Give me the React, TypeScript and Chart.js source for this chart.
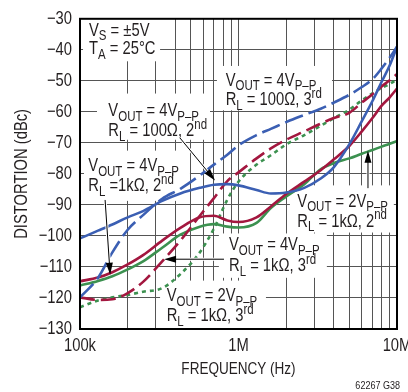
import React, { useEffect, useRef } from 'react';
import { Chart, registerables } from 'chart.js';

Chart.register(...registerables);

const FAMILY = '"Liberation Sans", Arial, sans-serif';
const NARROW = 0.82; // horizontal compression to emulate a condensed face
const TEXT = '#231f20';
const GRID = '#555555';
const BLUE = '#3b5fb3';
const RED = '#a3173f';
const GREEN = '#3c9150';

// Frequency grid (Hz)
const FREQ_HZ = [1e5, 1.3e5, 1.6e5, 2e5, 2.5e5, 3.3e5, 4.3e5, 5.7e5, 7e5, 8.5e5, 1e6, 1.3e6, 1.6e6, 2e6, 2.6e6, 3.3e6, 4e6, 5e6, 6e6, 7e6, 8e6, 9e6, 1e7];

// Distortion (dBc)
const HD2_4VPP_100R = [-100.8, -98.3, -96.3, -94, -92, -88.7, -86.3, -84.5, -83.5, -83.3, -83.7, -85.2, -86.3, -86, -84.5, -81.5, -77.8, -70.5, -63, -56.5, -50.3, -45, -39];
const HD3_4VPP_100R = [-119.8, -113.5, -105.3, -98, -93.3, -88, -84.8, -80.5, -77, -73.8, -70.8, -67.5, -65.5, -63.3, -61, -59, -57, -54.5, -52, -49.5, -46, -42.5, -39];
const HD2_4VPP_1K = [-114.6, -113.4, -111.7, -109.2, -106.2, -101.5, -97.4, -94, -93.5, -95, -95.5, -94, -90.5, -86.5, -82.5, -78.8, -75.3, -71, -66.3, -62, -58, -55.3, -52.5];
const HD3_4VPP_1K = [-119.8, -120.6, -120.4, -118.4, -114.8, -108.2, -101.5, -93.5, -87.8, -82.3, -79.5, -75, -71.8, -69, -66.3, -63.8, -62, -60.3, -57, -54.3, -51.8, -49.8, -47.8];
const HD2_2VPP_1K = [-116, -114.5, -113, -110.8, -108.2, -103.8, -99.6, -97, -96.2, -97, -97.3, -95.8, -91, -87.3, -83.3, -78.5, -76.5, -75, -73.5, -72.3, -71.2, -70.3, -69.4];
const HD3_2VPP_1K = [-123, -120.8, -119.8, -119, -118, -116.8, -112.3, -105.3, -97.6, -88.3, -82.5, -77, -74, -70.5, -67.5, -64.5, -62, -59.3, -56.3, -54, -52.3, -51, -49.5];

// Axis ticks
const X_TICKS = [1e5, 2e5, 3e5, 4e5, 5e5, 6e5, 7e5, 8e5, 9e5, 1e6, 2e6, 3e6, 4e6, 5e6, 6e6, 7e6, 8e6, 9e6, 1e7];
const X_TICK_LABELS: Record<string, string> = { '100000': '100k', '1000000': '1M', '10000000': '10M' };
const Y_MIN = -130;
const Y_MAX = -30;
const Y_STEP = 10;

type Seg = [string, 'n' | 'sub' | 'sup'];
type Line = { db: number; segs: Seg[] };
type Note = { box: [number, number, number, number]; f: number; lines: Line[]; arrow?: [number, number, number, number] };

const VOUT4: Seg[] = [['V', 'n'], ['OUT', 'sub'], [' = 4V', 'n'], ['P\u2013P', 'sub']];
const VOUT2: Seg[] = [['V', 'n'], ['OUT', 'sub'], [' = 2V', 'n'], ['P\u2013P', 'sub']];

const NOTES: Note[] = [
  { box: [1.045e5, 3.2e5, -30, -43.7], f: 1.14e5, lines: [
    { db: -35.4, segs: [['V', 'n'], ['S', 'sub'], [' = \u00b15V', 'n']] },
    { db: -41.4, segs: [['T', 'n'], ['A', 'sub'], [' = 25\u00b0C', 'n']] },
  ] },
  { box: [1.28e5, 6.61e5, -54.1, -69.0], f: 1.51e5, lines: [
    { db: -61.4, segs: VOUT4 },
    { db: -67.8, segs: [['R', 'n'], ['L', 'sub'], [' = 100\u03a9, 2', 'n'], ['nd', 'sup']] },
  ], arrow: [4.27e5, -68.4, 7.11e5, -82.1] },
  { box: [7.31e5, 3.89e6, -45.2, -59.5], f: 8.3e5, lines: [
    { db: -51.6, segs: VOUT4 },
    { db: -57.9, segs: [['R', 'n'], ['L', 'sub'], [' = 100\u03a9, 3', 'n'], ['rd', 'sup']] },
  ] },
  { box: [1.06e5, 4.94e5, -72.5, -88.7], f: 1.128e5, lines: [
    { db: -79.2, segs: VOUT4 },
    { db: -85.6, segs: [['R', 'n'], ['L', 'sub'], [' =1k\u03a9, 2', 'n'], ['nd', 'sup']] },
  ], arrow: [1.44e5, -88.4, 1.55e5, -112.5] },
  { box: [2.11e6, 9.55e6, -83.7, -98.9], f: 2.35e6, lines: [
    { db: -90.6, segs: VOUT2 },
    { db: -97.0, segs: [['R', 'n'], ['L', 'sub'], [' = 1k\u03a9, 2', 'n'], ['nd', 'sup']] },
  ], arrow: [6.56e6, -84.6, 6.56e6, -72.5] },
  { box: [7.52e5, 3.61e6, -99.2, -113.5], f: 8.71e5, lines: [
    { db: -104.6, segs: VOUT4 },
    { db: -111.3, segs: [['R', 'n'], ['L', 'sub'], [' = 1k\u03a9, 3', 'n'], ['rd', 'sup']] },
  ], arrow: [8.1e5, -107.5, 3.39e5, -107.5] },
  { box: [3.2e5, 1.49e6, -114.4, -129.7], f: 3.52e5, lines: [
    { db: -121.1, segs: VOUT2 },
    { db: -127.5, segs: [['R', 'n'], ['L', 'sub'], [' = 1k\u03a9, 3', 'n'], ['rd', 'sup']] },
  ] },
];

const SERIES = [
  { label: '4VP-P, RL=100Ω, 2nd', data: HD2_4VPP_100R, color: BLUE, dash: [] as number[] },
  { label: '4VP-P, RL=100Ω, 3rd', data: HD3_4VPP_100R, color: BLUE, dash: [19, 6] },
  { label: '4VP-P, RL=1kΩ, 2nd', data: HD2_4VPP_1K, color: RED, dash: [] as number[] },
  { label: '4VP-P, RL=1kΩ, 3rd', data: HD3_4VPP_1K, color: RED, dash: [15, 6] },
  { label: '2VP-P, RL=1kΩ, 2nd', data: HD2_2VPP_1K, color: GREEN, dash: [] as number[] },
  { label: '2VP-P, RL=1kΩ, 3rd', data: HD3_2VPP_1K, color: GREEN, dash: [4, 4] },
];

const FONT_SIZE = 18;

function drawRich(ctx: CanvasRenderingContext2D, segs: Seg[], x: number, y: number, size: number) {
  let cx = x;
  for (const [t, k] of segs) {
    const fs = k === 'n' ? size : Math.round(size * 0.76);
    ctx.font = `${fs}px ${FAMILY}`;
    const dy = k === 'sub' ? size * 0.26 : k === 'sup' ? -size * 0.4 : 0;
    ctx.fillText(t, cx, y + dy);
    cx += ctx.measureText(t).width * NARROW;
  }
}

function drawArrow(ctx: CanvasRenderingContext2D, x0: number, y0: number, x1: number, y1: number) {
  const ang = Math.atan2(y1 - y0, x1 - x0);
  const hl = 12;
  const hw = 3.5;
  const bx = x1 - hl * Math.cos(ang);
  const by = y1 - hl * Math.sin(ang);
  ctx.lineCap = 'butt';
  ctx.strokeStyle = '#fff';
  ctx.lineWidth = 3;
  ctx.beginPath();
  ctx.moveTo(x0, y0);
  ctx.lineTo(bx, by);
  ctx.stroke();
  ctx.strokeStyle = '#000';
  ctx.lineWidth = 1;
  ctx.beginPath();
  ctx.moveTo(x0, y0);
  ctx.lineTo(bx + Math.cos(ang) * 2, by + Math.sin(ang) * 2);
  ctx.stroke();
  ctx.fillStyle = '#000';
  ctx.beginPath();
  ctx.moveTo(x1, y1);
  ctx.lineTo(bx + hw * Math.sin(ang), by - hw * Math.cos(ang));
  ctx.lineTo(bx - hw * Math.sin(ang), by + hw * Math.cos(ang));
  ctx.closePath();
  ctx.fill();
}

const notesPlugin = {
  id: 'notes',
  beforeDatasetsDraw(chart: any) {
    const { ctx, scales } = chart;
    const xs = scales.x;
    const ys = scales.y;
    ctx.save();
    ctx.fillStyle = '#fff';
    for (const n of NOTES) {
      const [f0, f1, d0, d1] = n.box;
      const x0 = xs.getPixelForValue(f0);
      const x1 = xs.getPixelForValue(f1);
      const y0 = ys.getPixelForValue(d0);
      const y1 = ys.getPixelForValue(d1);
      ctx.fillRect(Math.min(x0, x1), Math.min(y0, y1), Math.abs(x1 - x0), Math.abs(y1 - y0));
    }
    ctx.fillStyle = TEXT;
    ctx.textAlign = 'left';
    ctx.textBaseline = 'alphabetic';
    for (const n of NOTES) {
      const px = xs.getPixelForValue(n.f);
      for (const ln of n.lines) {
        drawRich(ctx, ln.segs, px, ys.getPixelForValue(ln.db), FONT_SIZE);
      }
    }
    ctx.restore();
  },
  afterDatasetsDraw(chart: any) {
    const { ctx, scales, chartArea } = chart;
    const xs = scales.x;
    const ys = scales.y;
    ctx.save();
    for (const n of NOTES) {
      if (!n.arrow) continue;
      const [fa, da, fb, db] = n.arrow;
      drawArrow(ctx, xs.getPixelForValue(fa), ys.getPixelForValue(da), xs.getPixelForValue(fb), ys.getPixelForValue(db));
    }
    ctx.strokeStyle = '#000';
    ctx.lineWidth = 2;
    ctx.strokeRect(chartArea.left, chartArea.top, chartArea.right - chartArea.left, chartArea.bottom - chartArea.top);
    ctx.fillStyle = TEXT;
    ctx.font = `11px ${FAMILY}`;
    ctx.textAlign = 'right';
    ctx.textBaseline = 'alphabetic';
    ctx.fillText('62267 G38', chartArea.right + 3, chart.height - 3);
    ctx.restore();
  },
};

export default function App() {
  const ref = useRef<HTMLCanvasElement>(null);
  useEffect(() => {
    const canvas = ref.current;
    if (!canvas) return;
    const ctx = canvas.getContext('2d') as CanvasRenderingContext2D;
    const origFill = ctx.fillText;
    // draw every text run horizontally condensed around its anchor point
    (ctx as any).fillText = function (text: string, x: number, y: number) {
      ctx.save();
      ctx.translate(x, y);
      ctx.scale(NARROW, 1);
      origFill.call(ctx, text, 0, 0);
      ctx.restore();
    };
    const font = { family: FAMILY, size: FONT_SIZE };
    const chart = new Chart(canvas, {
      type: 'line',
      data: {
        datasets: SERIES.map((s) => ({
          label: s.label,
          data: FREQ_HZ.map((f, i) => ({ x: f, y: s.data[i] })),
          borderColor: s.color,
          backgroundColor: s.color,
          borderWidth: 2.6,
          borderDash: s.dash,
          borderCapStyle: 'butt',
          fill: false,
          pointRadius: 0,
          cubicInterpolationMode: 'monotone',
        })),
      },
      options: {
        animation: false,
        responsive: false,
        maintainAspectRatio: false,
        layout: { padding: { top: 14, right: 33, left: 0, bottom: 0 } },
        plugins: { legend: { display: false }, tooltip: { enabled: false } },
        scales: {
          x: {
            type: 'logarithmic',
            min: X_TICKS[0],
            max: X_TICKS[X_TICKS.length - 1],
            afterBuildTicks: (s: any) => {
              s.ticks = X_TICKS.map((v) => ({ value: v }));
            },
            afterFit: (s: any) => {
              s.height = 63;
            },
            grid: { color: GRID, lineWidth: 1, drawTicks: false },
            border: { display: false },
            ticks: {
              autoSkip: false,
              maxRotation: 0,
              padding: 6,
              font,
              color: TEXT,
              callback: (v: any) => X_TICK_LABELS[String(Math.round(Number(v)))] ?? '',
            },
            title: { display: true, text: 'FREQUENCY (Hz)', font: { family: FAMILY, size: 16.5 }, color: TEXT, padding: { top: 0, bottom: 13 } },
          },
          y: {
            type: 'linear',
            min: Y_MIN,
            max: Y_MAX,
            afterFit: (s: any) => {
              s.width = 80;
            },
            grid: { color: GRID, lineWidth: 1, drawTicks: false },
            border: { display: false },
            ticks: {
              stepSize: Y_STEP,
              padding: 8,
              font,
              color: TEXT,
              callback: (v: any) => (Number(v) < 0 ? '\u2212' + Math.abs(Number(v)) : String(v)),
            },
            title: { display: true, text: 'DISTORTION (dBc)', font, color: TEXT, padding: { top: 11, bottom: 0 } },
          },
        },
      },
      plugins: [notesPlugin],
    } as any);
    return () => {
      chart.destroy();
      (ctx as any).fillText = origFill;
    };
  }, []);
  return (
    <div style={{ position: 'fixed', left: 0, top: 0, width: 430, height: 392, background: '#fff' }}>
      <canvas ref={ref} width={430} height={392} style={{ width: 430, height: 392, display: 'block' }} />
    </div>
  );
}
